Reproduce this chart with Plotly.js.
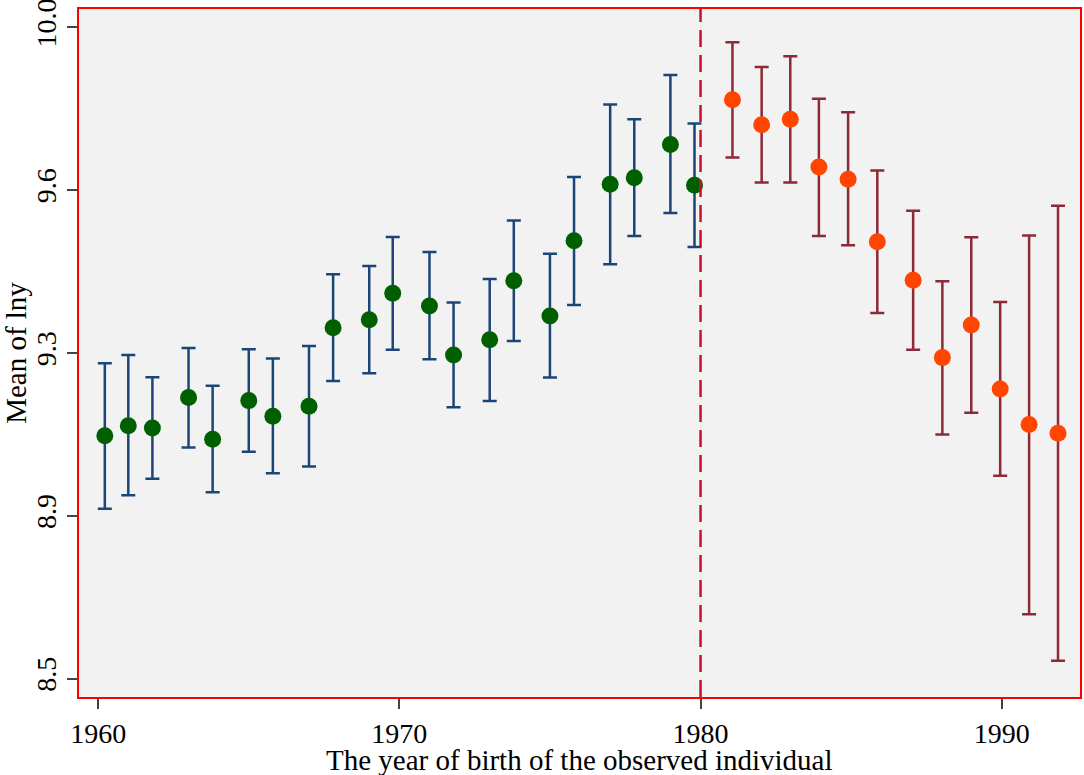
<!DOCTYPE html>
<html>
<head>
<meta charset="utf-8">
<script src="https://cdn.plot.ly/plotly-3.0.1.min.js"></script>
<style>html,body{margin:0;padding:0;background:#fff;}#chart{width:1084px;height:775px;}</style>
</head>
<body>
<div id="chart"></div>
<script>
// Birth cohorts before 1980 (green)
const yearsBefore = [1960.22,1961.0,1961.8,1963.0,1963.8,1965.0,1965.8,1967.0,1967.8,1969.0,1969.78,1971.0,1971.8,1973.0,1973.8,1975.0,1975.8,1977.0,1977.8,1979.0,1979.8];
const meanBefore  = [9.059,9.082,9.077,9.147,9.051,9.140,9.104,9.127,9.308,9.326,9.387,9.358,9.245,9.280,9.416,9.335,9.508,9.638,9.653,9.730,9.636];
const upperBefore = [9.226,9.245,9.194,9.261,9.174,9.258,9.237,9.266,9.431,9.450,9.517,9.482,9.366,9.420,9.555,9.478,9.655,9.822,9.788,9.890,9.778];
const lowerBefore = [8.891,8.922,8.960,9.032,8.929,9.022,8.973,8.988,9.185,9.203,9.257,9.235,9.125,9.139,9.277,9.193,9.360,9.454,9.519,9.572,9.494];

// Birth cohorts after 1980 (orange)
const yearsAfter = [1981.06,1982.03,1982.98,1983.93,1984.9,1985.87,1987.06,1988.03,1988.99,1989.95,1990.91,1991.87];
const meanAfter  = [9.833,9.775,9.788,9.678,9.650,9.506,9.417,9.239,9.314,9.167,9.085,9.065];
const upperAfter = [9.965,9.908,9.933,9.835,9.804,9.670,9.577,9.415,9.516,9.367,9.520,9.589];
const lowerAfter = [9.700,9.642,9.642,9.519,9.498,9.342,9.257,9.062,9.112,8.967,8.648,8.541];

const cutoffYear = 1980;
const xTickVals = [1960,1970,1980,1990];
const yTickVals = [8.5,8.875,9.25,9.625,10];
const yTickText = ['8.5','8.9','9.3','9.6','10.0'];
const xTitle = 'The year of birth of the observed individual';
const yTitle = 'Mean of lny';

const sub = (a,b) => a.map((v,i)=>v-b[i]);
const serif = '"Liberation Serif", "Times New Roman", serif';

const traces = [
  {
    x: yearsBefore, y: meanBefore, type: 'scatter', mode: 'markers',
    marker: {color: '#006000', size: 17},
    error_y: {type: 'data', symmetric: false,
      array: sub(upperBefore, meanBefore), arrayminus: sub(meanBefore, lowerBefore),
      color: '#1c4577', thickness: 2.5, width: 7},
    showlegend: false, hoverinfo: 'x+y'
  },
  {
    x: yearsAfter, y: meanAfter, type: 'scatter', mode: 'markers',
    marker: {color: '#ff4500', size: 17},
    error_y: {type: 'data', symmetric: false,
      array: sub(upperAfter, meanAfter), arrayminus: sub(meanAfter, lowerAfter),
      color: '#8c2a36', thickness: 2.5, width: 7},
    showlegend: false, hoverinfo: 'x+y'
  }
];

const layout = {
  width: 1084, height: 775,
  margin: {l: 79, r: 4, t: 9, b: 78},
  paper_bgcolor: '#ffffff',
  plot_bgcolor: '#f2f2f2',
  font: {family: serif, size: 28, color: '#000'},
  xaxis: {
    range: [1959.363, 1992.60],
    tickvals: xTickVals, ticktext: xTickVals.map(String),
    showgrid: false, zeroline: false,
    showline: true, linecolor: '#ff0000', linewidth: 2, mirror: true,
    ticks: 'outside', ticklen: 10, tickwidth: 2, tickcolor: '#444',
    tickfont: {family: serif, size: 28, color: '#000'}
  },
  yaxis: {
    range: [8.4575, 10.0418],
    tickvals: yTickVals, ticktext: yTickText,
    tickangle: -90,
    ticklabeloverflow: 'allow',
    showgrid: false, zeroline: false,
    showline: true, linecolor: '#ff0000', linewidth: 2, mirror: true,
    ticks: 'outside', ticklen: 10, tickwidth: 2, tickcolor: '#444',
    tickfont: {family: serif, size: 28, color: '#000'},
    title: {text: yTitle, font: {family: serif, size: 29, color: '#000'}, standoff: 2}
  },
  annotations: [{
    text: xTitle, xref: 'paper', yref: 'paper', x: 0.5, y: 0,
    xanchor: 'center', yanchor: 'middle', yshift: -63, showarrow: false,
    font: {family: serif, size: 29, color: '#000'}
  }],
  shapes: [{
    type: 'line', xref: 'x', yref: 'paper',
    x0: cutoffYear, x1: cutoffYear, y0: 0, y1: 1,
    line: {color: '#c8102e', width: 2.5, dash: '17px,8px'}
  }]
};

Plotly.newPlot('chart', traces, layout, {displayModeBar: false, staticPlot: true});
</script>
</body>
</html>
